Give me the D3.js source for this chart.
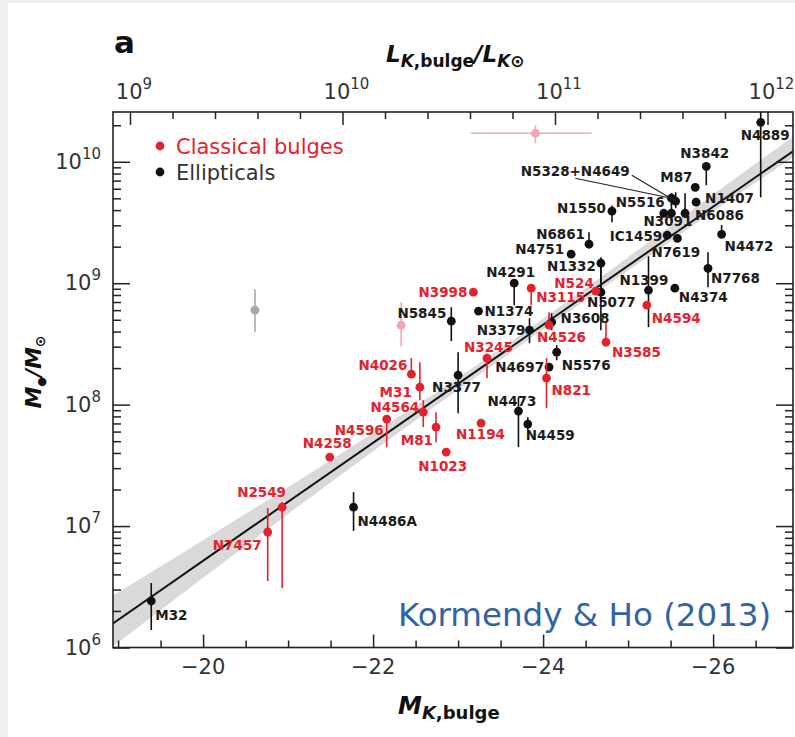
<!DOCTYPE html>
<html>
<head>
<meta charset="utf-8">
<script src="https://cdn.jsdelivr.net/npm/d3@7"></script>
<style>
  body { margin: 0; background: #fff; }
  svg { display: block; }
</style>
</head>
<body>
<svg id="chart" width="795" height="737"></svg>
<script>
// ---- Ellipticals: name, M_K(bulge), log M_BH and error-bar ends ----
const ellName  = ["M32","N4486A","N5845","N3377","N1374","N4291","N3379","N4473","N4459","N4697","N5576","N3608","N1332","N5077","N4751","N6861","N1550","N1399","N4374","IC1459","N7619","N3091","N5516","N4649","N5328","M87","N1407","N6086","N3842","N4472","N7768","N4889"];
const ellMk    = [-19.39,-21.77,-22.92,-23.00,-23.24,-23.66,-23.84,-23.71,-23.82,-24.07,-24.16,-24.10,-24.68,-24.68,-24.33,-24.54,-24.81,-25.24,-25.55,-25.46,-25.58,-25.51,-25.42,-25.56,-25.51,-25.79,-25.80,-25.67,-25.92,-26.10,-25.94,-26.56];
const ellLogM  = [6.383,7.156,8.687,8.243,8.770,9.000,8.613,7.947,7.840,8.309,8.432,8.679,9.165,8.926,9.239,9.321,9.593,8.942,8.959,9.395,9.370,9.576,9.576,9.675,9.700,9.790,9.667,9.576,9.963,9.403,9.123,10.325];
const ellLogLo = [6.144,6.959,8.523,7.930,8.740,8.819,8.506,7.650,7.790,8.290,8.366,8.613,8.926,8.613,9.210,9.300,9.502,8.638,8.930,9.370,9.340,9.502,9.550,9.617,9.640,9.770,9.640,9.576,9.807,9.400,8.967,9.708];
const ellLogHi = [6.531,7.280,8.802,8.432,8.800,9.020,8.712,8.060,7.897,8.330,8.490,8.753,9.214,9.165,9.270,9.420,9.640,9.222,8.980,9.420,9.400,9.741,9.600,9.749,9.741,9.810,9.690,9.741,9.996,9.480,9.255,10.450];

// ---- Classical bulges ----
const bulName  = ["N7457","N2549","N4258","N4596","N4026","M31","N4564","M81","N1023","N3998","N3245","N1194","N3115","N4526","N821","N524","N3585","N4594"];
const bulMk    = [-20.76,-20.93,-21.49,-22.16,-22.45,-22.55,-22.59,-22.74,-22.86,-23.18,-23.34,-23.27,-23.86,-24.07,-24.04,-24.62,-24.74,-25.22];
const bulLogM  = [6.951,7.156,7.568,7.881,8.251,8.144,7.938,7.815,7.609,8.926,8.383,7.848,8.959,8.654,8.218,8.934,8.514,8.819];
const bulLogLo = [6.547,6.490,7.550,7.650,8.251,8.037,7.815,7.691,7.590,8.910,8.218,7.830,8.819,8.630,7.971,8.920,8.514,8.800];
const bulLogHi = [7.148,7.198,7.580,7.897,8.383,8.350,8.037,7.938,7.630,8.940,8.420,7.860,8.970,8.760,8.383,8.950,8.679,8.830];

// ---- Omitted objects (grey / pink) ----
const othKind  = ["grey","pink","pink"];
const othMk    = [-20.61,-22.33,-23.91];
const othLogM  = [8.778,8.654,10.235];
const othLogLo = [8.597,8.481,10.152];
const othLogHi = [8.951,8.844,10.300];
const othMkLo  = [null,null,-23.15];
const othMkHi  = [null,null,-24.57];

// ---- Fit: log M = zero + slope*(M_K - pivot), with its 1-sigma band ----
const fitPivot = -24.21, fitZero = 8.76, fitSlope = -0.486;
const bandMk   = [-18.94,-20,-21,-22,-23,-24,-25,-26,-26.94];
const bandUp   = [0.23,0.17,0.12,0.08,0.05,0.05,0.07,0.10,0.12];
const bandDn   = [0.19,0.14,0.10,0.07,0.05,0.04,0.04,0.04,0.05];

// ---- Axes ----
const mkDomain   = [-18.94, -26.94];
const mbhDomain  = [1e6, Math.pow(10, 10.41)];
const lumDomain  = [Math.pow(10, 8.92), Math.pow(10, 12.12)];
const mkTickMajor  = [-20, -22, -24, -26];
const mkTickLabels = ["\u221220", "\u221222", "\u221224", "\u221226"];
const mbhExps = [6, 7, 8, 9, 10];
const lumExps = [9, 10, 11, 12];

// label offsets (px from the dot) and anchor
const labelPos = {
  "M32":[4,14,"start"], "N4486A":[4,14,"start"], "N5845":[-5,-8,"end"], "N3377":[-26,12,"start"],
  "N1374":[6,0,"start"], "N4291":[-28,-11,"start"], "N3379":[-4,0,"end"], "N4473":[-31,-10,"start"],
  "N4459":[-2,11,"start"], "N4697":[-5,0,"end"], "N5576":[5,13,"start"], "N3608":[9,-4,"start"],
  "N1332":[-5,3,"end"], "N5077":[-14,10,"start"], "N4751":[-7,-5,"end"], "N6861":[-4,-10,"end"],
  "N1550":[-6,-3,"end"], "N1399":[-29,-10,"start"], "N4374":[4,9,"start"], "IC1459":[-5,1,"end"],
  "N7619":[-26,14,"start"], "N3091":[-28,8,"start"], "N5516":[-48,-11,"start"],
  "M87":[-35,-10,"start"], "N1407":[9,-4,"start"], "N6086":[10,2,"start"], "N3842":[-26,-13,"start"],
  "N4472":[3,12,"start"], "N7768":[3,10,"start"], "N4889":[-20,13,"start"],
  "N7457":[-6,13,"end"], "N2549":[-45,-15,"start"], "N4258":[-27,-14,"start"], "N4596":[-3,11,"end"],
  "N4026":[-4,-9,"end"], "M31":[-8,5,"end"], "N4564":[-4,-5,"end"], "M81":[-3,13,"end"],
  "N1023":[-28,14,"start"], "N3998":[-6,0,"end"], "N3245":[-23,-11,"start"], "N1194":[-25,11,"start"],
  "N3115":[5,9,"start"], "N4526":[-12,12,"start"], "N821":[5,12,"start"], "N524":[-2,-8,"end"],
  "N3585":[6,10,"start"], "N4594":[5,13,"start"]
};

const RED = "#e4212c", BLK = "#111";
const plot = {left: 113, right: 793, top: 112, bottom: 647.5};

const svg = d3.select("#chart");

// page edges
svg.append("rect").attr("x",0).attr("y",0).attr("width",795).attr("height",737).attr("fill","#fff");
svg.append("rect").attr("x",0).attr("y",0).attr("width",8).attr("height",737).attr("fill","#f0f0f0");
svg.append("rect").attr("x",0).attr("y",0).attr("width",795).attr("height",3).attr("fill","#f0f0f0");

const x = d3.scaleLinear().domain(mkDomain).range([plot.left, plot.right]);
const y = d3.scaleLog().domain(mbhDomain).range([plot.bottom, plot.top]);
const xL = d3.scaleLog().domain(lumDomain).range([plot.left, plot.right]);
const yv = lg => y(Math.pow(10, lg));

svg.append("clipPath").attr("id","plotclip").append("rect")
  .attr("x",plot.left).attr("y",plot.top)
  .attr("width",plot.right-plot.left).attr("height",plot.bottom-plot.top);

const g = svg.append("g").attr("clip-path","url(#plotclip)");
const fit = m => fitZero + fitSlope*(m - fitPivot);

// scatter band
const bandData = bandMk.map((m,i) => ({m, up: fit(m)+bandUp[i], dn: fit(m)-bandDn[i]}));
g.append("path").datum(bandData)
  .attr("d", d3.area().x(d => x(d.m)).y0(d => yv(d.dn)).y1(d => yv(d.up)).curve(d3.curveMonotoneX))
  .attr("fill","#d9d9d9");

// fit line
g.append("path").datum(mkDomain)
  .attr("d", d3.line().x(d => x(d)).y(d => yv(fit(d))))
  .attr("stroke","#111").attr("stroke-width",2).attr("fill","none");

// omitted objects
const othColor = k => k === "pink" ? "#f4a6b6" : "#a9a9a9";
othMk.forEach((m,i) => {
  g.append("line").attr("x1",x(m)).attr("x2",x(m)).attr("y1",yv(othLogLo[i])).attr("y2",yv(othLogHi[i]))
    .attr("stroke",othColor(othKind[i])).attr("stroke-width",1.6);
  if (othMkLo[i] !== null) {
    g.append("line").attr("x1",x(othMkLo[i])).attr("x2",x(othMkHi[i])).attr("y1",yv(othLogM[i])).attr("y2",yv(othLogM[i]))
      .attr("stroke",othColor(othKind[i])).attr("stroke-width",1.6);
  }
  g.append("circle").attr("cx",x(m)).attr("cy",yv(othLogM[i])).attr("r",4.4).attr("fill",othColor(othKind[i]));
});

function drawSet(names, mks, lms, los, his, color) {
  const rows = names.map((n,i) => ({n, m: mks[i], lm: lms[i], lo: los[i], hi: his[i]}));
  g.selectAll(null).data(rows).enter().append("line")
    .attr("x1", d => x(d.m)).attr("x2", d => x(d.m))
    .attr("y1", d => yv(d.lo)).attr("y2", d => yv(d.hi))
    .attr("stroke", color).attr("stroke-width", 1.6);
  g.selectAll(null).data(rows).enter().append("circle")
    .attr("cx", d => x(d.m)).attr("cy", d => yv(d.lm)).attr("r", 4.4).attr("fill", color);
  return rows;
}
const ellRows = drawSet(ellName, ellMk, ellLogM, ellLogLo, ellLogHi, BLK);
const bulRows = drawSet(bulName, bulMk, bulLogM, bulLogLo, bulLogHi, RED);

// point labels
const labG = svg.append("g").attr("font-family","DejaVu Sans").attr("font-weight","bold").attr("font-size",13.5);
function drawLabels(rows, color) {
  rows.filter(d => labelPos[d.n]).forEach(d => {
    const p = labelPos[d.n];
    labG.append("text").attr("x", x(d.m)+p[0]).attr("y", yv(d.lm)+p[1]).attr("dy","0.36em")
      .attr("text-anchor", p[2]).attr("fill", color).text(d.n);
  });
}
drawLabels(ellRows, "#1c1c1c");
drawLabels(bulRows, RED);

// combined label with two leader lines
{
  const a = ellRows.find(d => d.n === "N4649"), b = ellRows.find(d => d.n === "N5328");
  const lx = x(a.m) - 155, ly = yv(a.lm) - 30;
  const t = labG.append("text").attr("x", lx).attr("y", ly).attr("dy","0.36em").attr("fill","#1c1c1c").text("N5328+N4649");
  const node = t.node();
  const plusX = lx + node.getSubStringLength(0,5) + node.getSubStringLength(5,1)/2;
  const endX = lx + node.getComputedTextLength();
  labG.append("line").attr("x1", plusX).attr("y1", ly+7).attr("x2", x(b.m)).attr("y2", yv(b.lm))
    .attr("stroke","#222").attr("stroke-width",1.2);
  labG.append("line").attr("x1", endX+2).attr("y1", ly+4).attr("x2", x(a.m)).attr("y2", yv(a.lm))
    .attr("stroke","#222").attr("stroke-width",1.2);
}

// ---- axes (ticks point inward) ----
const mkMinor = d3.range(-19, -26.51, -0.5).filter(v => !mkTickMajor.includes(v));
const mbhMinor = [];
mbhExps.slice(0,-1).forEach(e => d3.range(2,10).forEach(k => mbhMinor.push(k*Math.pow(10,e))));
mbhMinor.push(2e10);
const mbhMajor = mbhExps.map(e => Math.pow(10,e));
const lumMajor = lumExps.map(e => Math.pow(10,e));
const lumMinor = d3.range(9.2, 12.01, 0.2).map(v => Math.pow(10, v)).filter(v => !lumExps.some(e => Math.abs(Math.log10(v)-e) < 1e-6));

function axisGroup(axis, tx, ty) {
  const a = svg.append("g").attr("transform", `translate(${tx},${ty})`).call(axis);
  a.select(".domain").remove();
  a.selectAll("line").attr("stroke","#222").attr("stroke-width",1.5);
  return a;
}
axisGroup(d3.axisBottom(x).tickValues(mkTickMajor).tickSize(-13).tickFormat(""), 0, plot.bottom);
axisGroup(d3.axisBottom(x).tickValues(mkMinor).tickSize(-7).tickFormat(""), 0, plot.bottom);
axisGroup(d3.axisTop(xL).tickValues(lumMajor).tickSize(-13).tickFormat(""), 0, plot.top);
axisGroup(d3.axisTop(xL).tickValues(lumMinor).tickSize(-7).tickFormat(""), 0, plot.top);
axisGroup(d3.axisLeft(y).tickValues(mbhMajor).tickSize(-17).tickFormat(""), plot.left, 0);
axisGroup(d3.axisLeft(y).tickValues(mbhMinor).tickSize(-8).tickFormat(""), plot.left, 0);
axisGroup(d3.axisRight(y).tickValues(mbhMajor).tickSize(-17).tickFormat(""), plot.right, 0);
axisGroup(d3.axisRight(y).tickValues(mbhMinor).tickSize(-8).tickFormat(""), plot.right, 0);

// frame
svg.append("rect").attr("x",plot.left).attr("y",plot.top)
  .attr("width",plot.right-plot.left).attr("height",plot.bottom-plot.top)
  .attr("fill","none").attr("stroke","#222").attr("stroke-width",1.6);

// tick labels
const tickFont = "DejaVu Sans";
mkTickMajor.forEach((v,i) => {
  svg.append("text").attr("x", x(v)).attr("y", 674).attr("text-anchor","middle")
    .attr("font-family",tickFont).attr("font-size",21).attr("fill","#333").text(mkTickLabels[i]);
});
function powLabel(px, py, e, anchor) {
  const t = svg.append("text").attr("x",px).attr("y",py).attr("text-anchor",anchor)
    .attr("font-family",tickFont).attr("fill","#333");
  t.append("tspan").attr("font-size",21).text("10");
  t.append("tspan").attr("font-size",15).attr("dy",-10).text(e);
}
mbhExps.forEach(e => powLabel(101, y(Math.pow(10,e)) + 7, e, "end"));
lumExps.forEach(e => powLabel(xL(Math.pow(10,e)) + 4, 99, e, "middle"));

// axis titles
svg.append("text").attr("x",114).attr("y",53).attr("font-family","DejaVu Sans").attr("font-weight","bold")
  .attr("font-size",31).attr("fill","#111").text("a");

{
  const t = svg.append("text").attr("x",386).attr("y",62).attr("font-family","DejaVu Sans")
    .attr("font-weight","bold").attr("fill","#111");
  t.append("tspan").attr("font-style","italic").attr("font-size",23).text("L");
  t.append("tspan").attr("font-size",17).attr("dy",5).attr("font-style","italic").text("K");
  t.append("tspan").attr("font-size",17).text(",bulge");
  t.append("tspan").attr("font-size",23).attr("dy",-5).attr("font-style","italic").text("/L");
  t.append("tspan").attr("font-size",17).attr("dy",5).attr("font-style","italic").text("K\u2299");
}
{
  const t = svg.append("text").attr("x",398).attr("y",714).attr("font-family","DejaVu Sans")
    .attr("font-weight","bold").attr("fill","#111");
  t.append("tspan").attr("font-style","italic").attr("font-size",24).text("M");
  t.append("tspan").attr("font-size",18).attr("dy",5).attr("font-style","italic").text("K");
  t.append("tspan").attr("font-size",18).text(",bulge");
}
{
  const t = svg.append("text").attr("transform","translate(41,372) rotate(-90)").attr("text-anchor","middle")
    .attr("font-family","DejaVu Sans").attr("font-weight","bold").attr("fill","#111");
  t.append("tspan").attr("font-style","italic").attr("font-size",22).text("M");
  t.append("tspan").attr("font-size",11).attr("dy",4).text("\u25CF");
  t.append("tspan").attr("font-size",22).attr("dy",-4).attr("font-style","italic").text("/M");
  t.append("tspan").attr("font-size",14).attr("dy",4).text("\u2299");
}

// legend
const legend = [{label:"Classical bulges", color: RED, text: RED}, {label:"Ellipticals", color: BLK, text: "#333"}];
legend.forEach((d,i) => {
  const ly = 146 + i*26;
  svg.append("circle").attr("cx",160).attr("cy",ly).attr("r",4.4).attr("fill",d.color);
  svg.append("text").attr("x",176).attr("y",ly).attr("dy","0.36em").attr("font-family","DejaVu Sans")
    .attr("font-size",21).attr("fill",d.text).text(d.label);
});

// credit
svg.append("text").attr("x",398).attr("y",626).attr("font-family","DejaVu Sans").attr("font-size",32.5)
  .attr("fill","#3064a6").text("Kormendy & Ho (2013)");
</script>
</body>
</html>
